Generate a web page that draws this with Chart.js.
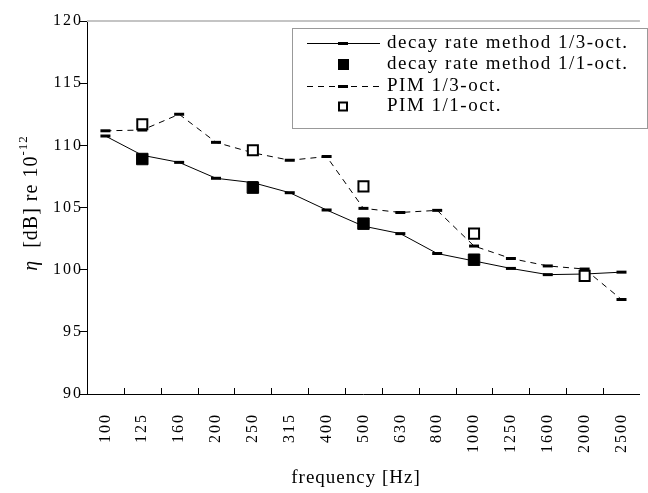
<!DOCTYPE html>
<html>
<head>
<meta charset="utf-8">
<script src="https://cdn.jsdelivr.net/npm/chart.js@4"></script>
<style>
    html, body { margin: 0; padding: 0; background: #fff; overflow: hidden; }
    #wrap { width: 660px; height: 493px; }
</style>
</head>
<body>
<div id="wrap"><canvas id="chart" width="660" height="493"></canvas></div>
<script>
    // frequency bands (1/3 octave)
    var freqs = ['100', '125', '160', '200', '250', '315', '400', '500', '630', '800', '1000', '1250', '1600', '2000', '2500'];
    // eta [dB] re 10^-12
    var decayThird = [110.75, 109.2, 108.63, 107.35, 107.0, 106.19, 104.8, 103.5, 102.9, 101.3, 100.7, 100.1, 99.6, 99.65, 99.8];
    var decayOct = [null, 108.9, null, null, 106.6, null, null, 103.7, null, null, 100.8, null, null, null, null];
    var pimThird = [111.17, 111.23, 112.5, 110.24, 109.4, 108.8, 109.1, 104.93, 104.6, 104.77, 101.9, 100.9, 100.3, 100.05, 97.6];
    var pimOct = [null, 111.7, null, null, 109.6, null, null, 106.7, null, null, 102.9, null, null, 99.5, null];
    var yMin = 90, yMax = 120, yStep = 5;
    var xTitle = 'frequency [Hz]';

    var serif = 'Liberation Serif';

    var framePlugin = {
        id: 'frame',
        beforeDraw: function(chart) {
            chart.ctx.letterSpacing = '2px';
        },
        afterDraw: function(chart) {
            var ctx = chart.ctx;
            var area = chart.chartArea;
            var x = chart.scales.x;
            ctx.save();
            ctx.letterSpacing = '0px';
            // grey top border
            ctx.strokeStyle = '#c4c4c4';
            ctx.lineWidth = 2;
            ctx.beginPath();
            ctx.moveTo(area.left, area.top);
            ctx.lineTo(area.right, area.top);
            ctx.stroke();
            // inward ticks on x axis between bands
            ctx.strokeStyle = '#000';
            ctx.lineWidth = 1;
            var step = x.width / freqs.length;
            for (var i = 1; i < freqs.length; i++) {
                var px = Math.round(x.left + i * step) + 0.5;
                ctx.beginPath();
                ctx.moveTo(px, area.bottom);
                ctx.lineTo(px, area.bottom - 6);
                ctx.stroke();
            }

            // legend
            var lx = 292, ly = 28, lw = 355, lh = 100;
            ctx.fillStyle = '#fff';
            ctx.fillRect(lx, ly, lw, lh);
            ctx.strokeStyle = '#999';
            ctx.lineWidth = 1;
            ctx.strokeRect(lx + 0.5, ly + 0.5, lw, lh);
            var rows = [43, 64, 86, 106];
            chart.data.datasets.forEach(function(ds, k) {
                var cy = rows[k] + 0.5;
                ctx.strokeStyle = '#000';
                ctx.fillStyle = '#000';
                if (ds.showLine !== false) {
                    ctx.lineWidth = 1;
                    ctx.setLineDash(ds.borderDash || []);
                    ctx.beginPath();
                    ctx.moveTo(307, cy);
                    ctx.lineTo(380, cy);
                    ctx.stroke();
                    ctx.setLineDash([]);
                }
                if (ds.pointStyle == 'line') {
                    ctx.fillRect(338, cy - 1.5, 10, 3);
                } else if (ds.pointBackgroundColor == '#fff') {
                    ctx.fillStyle = '#fff';
                    ctx.fillRect(338, cy - 5, 10, 10);
                    ctx.lineWidth = 2;
                    ctx.strokeRect(339, cy - 4, 8, 8);
                } else {
                    ctx.fillRect(338, cy - 5.5, 11, 11);
                }
                ctx.fillStyle = '#000';
                ctx.font = '19px "' + serif + '"';
                ctx.letterSpacing = '1.5px';
                ctx.textAlign = 'left';
                ctx.textBaseline = 'middle';
                ctx.fillText(ds.label, 387, cy);
                ctx.letterSpacing = '0px';
            });

            // x title
            ctx.fillStyle = '#000';
            ctx.font = '19px "' + serif + '"';
            ctx.letterSpacing = '1px';
            ctx.textAlign = 'center';
            ctx.textBaseline = 'middle';
            ctx.fillText(xTitle, 356, 478);

            // y title: eta [dB] re 10^-12
            ctx.translate(32, 203);
            ctx.rotate(-Math.PI / 2);
            var parts = [
                { t: '\u03b7', f: 'italic 20px "' + serif + '"', dy: 0 },
                { t: '  [dB] re 10', f: '20px "' + serif + '"', dy: 0 },
                { t: '-12', f: '13px "' + serif + '"', dy: -8 }
            ];
            var total = 0;
            parts.forEach(function(p) { ctx.font = p.f; p.w = ctx.measureText(p.t).width; total += p.w; });
            var cx = -total / 2;
            ctx.textAlign = 'left';
            parts.forEach(function(p) {
                ctx.font = p.f;
                ctx.fillText(p.t, cx, p.dy);
                cx += p.w;
            });
            ctx.restore();
        }
    };

    var ctx = document.getElementById('chart').getContext('2d');
    var chart = new Chart(ctx, {
        type: 'line',
        data: {
            labels: freqs,
            datasets: [{
                label: 'decay rate method 1/3-oct.',
                data: decayThird,
                borderColor: '#000',
                borderWidth: 1,
                pointStyle: 'line',
                pointRadius: 5,
                pointBorderWidth: 3,
                pointBorderColor: '#000',
                pointBackgroundColor: '#000',
                order: 3
            }, {
                label: 'decay rate method 1/1-oct.',
                data: decayOct,
                showLine: false,
                pointStyle: 'rect',
                pointRadius: 8.1,
                pointBorderWidth: 1,
                pointBorderColor: '#000',
                pointBackgroundColor: '#000',
                order: 1
            }, {
                label: 'PIM 1/3-oct.',
                data: pimThird,
                borderColor: '#000',
                borderWidth: 1,
                borderDash: [6, 5],
                pointStyle: 'line',
                pointRadius: 5,
                pointBorderWidth: 3,
                pointBorderColor: '#000',
                pointBackgroundColor: '#000',
                order: 2
            }, {
                label: 'PIM 1/1-oct.',
                data: pimOct,
                showLine: false,
                pointStyle: 'rect',
                pointRadius: 7.1,
                pointBorderWidth: 2,
                pointBorderColor: '#000',
                pointBackgroundColor: '#fff',
                order: 0
            }]
        },
        options: {
            responsive: false,
            animation: false,
            layout: { padding: { top: 21, right: 6, left: 0, bottom: 0 } },
            plugins: { legend: { display: false }, tooltip: { enabled: false } },
            scales: {
                x: {
                    offset: true,
                    grid: { display: false, drawTicks: false },
                    border: { color: '#000', width: 1 },
                    ticks: {
                        color: '#000',
                        font: { family: serif, size: 16 },
                        minRotation: 90,
                        maxRotation: 90,
                        autoSkip: false,
                        padding: 19
                    },
                    afterFit: function(s) { s.height = 99; }
                },
                y: {
                    min: yMin,
                    max: yMax,
                    grid: { drawOnChartArea: false, drawTicks: true, tickLength: 7, color: '#000' },
                    border: { color: '#000', width: 1 },
                    ticks: {
                        stepSize: yStep,
                        color: '#000',
                        font: { family: serif, size: 16 },
                        padding: -3
                    },
                    afterFit: function(s) { s.width = 87; }
                }
            }
        },
        plugins: [framePlugin]
    });
</script>
</body>
</html>
